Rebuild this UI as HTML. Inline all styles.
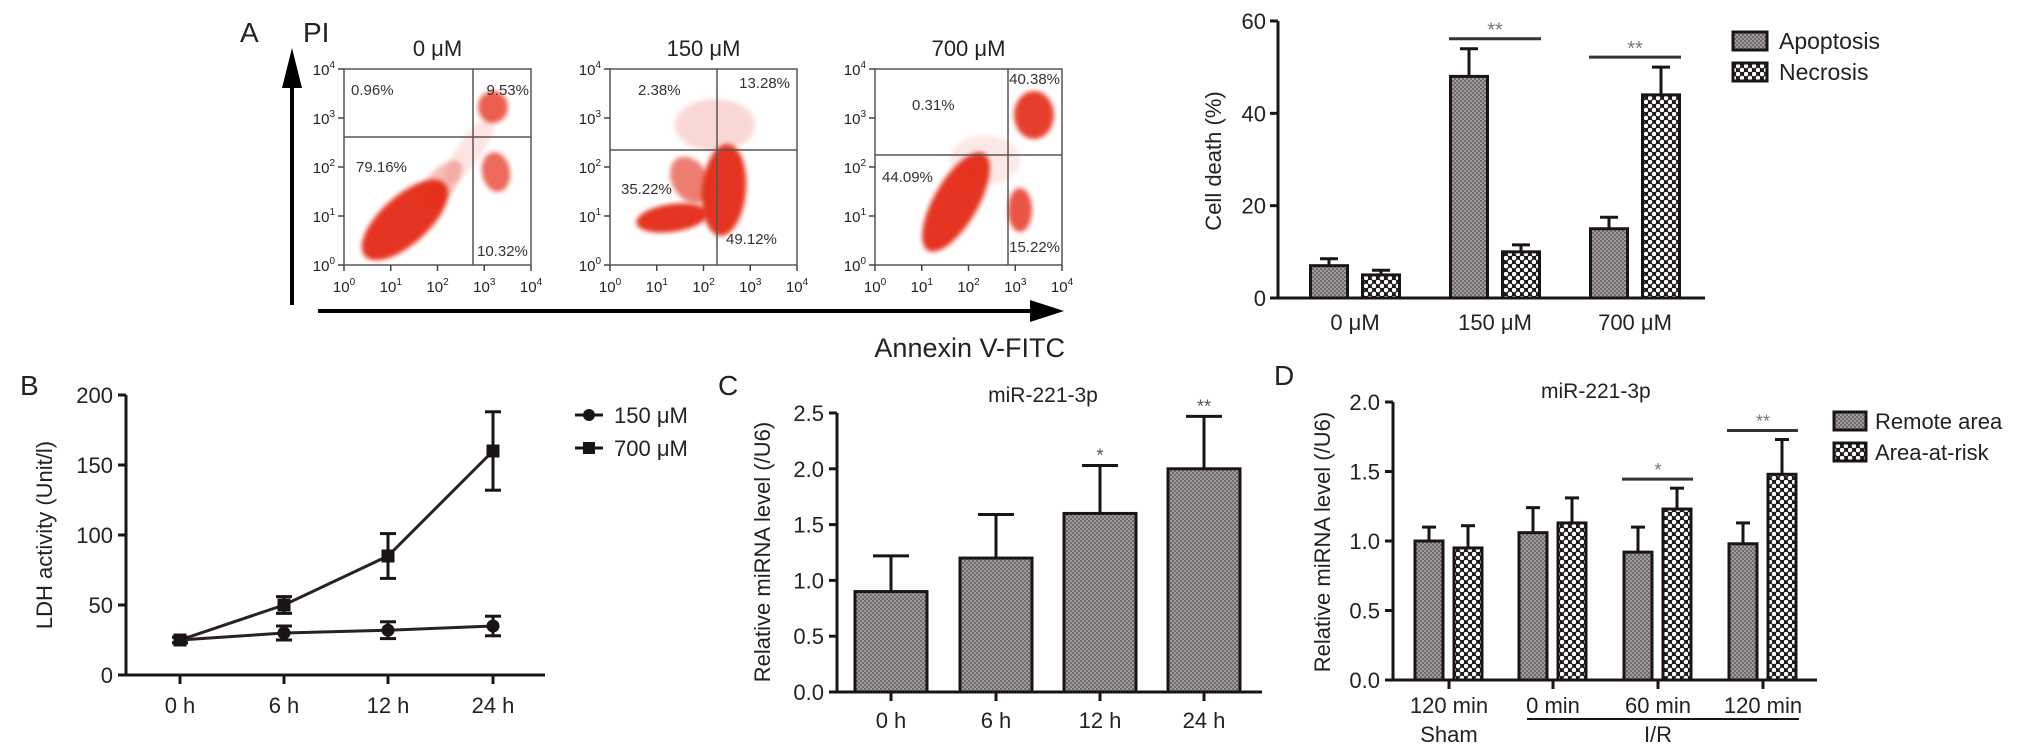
<!DOCTYPE html>
<html><head><meta charset="utf-8"><style>
html,body{margin:0;padding:0;background:#fff;}
svg{display:block;font-family:"Liberation Sans",Arial,sans-serif;}
</style></head><body>
<svg id="fig" width="2032" height="750" viewBox="0 0 2032 750" xmlns="http://www.w3.org/2000/svg">
<defs>
<pattern id="pg" width="4" height="4" patternUnits="userSpaceOnUse"><rect width="4" height="4" fill="#a29c9c"/><rect x="0" y="0" width="2" height="2" fill="#6f6a6a"/><rect x="2" y="2" width="2" height="2" fill="#6f6a6a"/></pattern>
<pattern id="pc" width="8" height="8" patternUnits="userSpaceOnUse"><rect width="8" height="8" fill="#1e1a1a"/><circle cx="2" cy="2" r="2.3" fill="#fff"/><circle cx="6" cy="6" r="2.3" fill="#fff"/></pattern>
<filter id="bl"><feGaussianBlur stdDeviation="2.5"/></filter>
</defs>
</svg>
<script>
// ---------- data ----------
const aCats = ['0 μM','150 μM','700 μM'];
const aApop = [7, 48, 15];
const aApopErr = [1.5, 6, 2.5];
const aNecr = [5, 10, 44];
const aNecrErr = [1, 1.5, 6];
const aTicks = [0, 20, 40, 60];

const bCats = ['0 h','6 h','12 h','24 h'];
const b150 = [25, 30, 32, 35];
const b150Err = [2, 5, 6, 7];
const b700 = [25, 50, 85, 160];
const b700Err = [2, 6, 16, 28];
const bTicks = [0, 50, 100, 150, 200];

const cCats = ['0 h','6 h','12 h','24 h'];
const cVals = [0.9, 1.2, 1.6, 2.0];
const cErr = [0.32, 0.39, 0.43, 0.47];
const cStars = ['', '', '*', '**'];
const cTicks = ['0.0','0.5','1.0','1.5','2.0','2.5'];

const dCats = ['120 min','0 min','60 min','120 min'];
const dRemote = [1.0, 1.06, 0.92, 0.98];
const dRemoteErr = [0.1, 0.18, 0.18, 0.15];
const dArea = [0.95, 1.13, 1.23, 1.48];
const dAreaErr = [0.16, 0.18, 0.15, 0.25];
const dStars = ['', '', '*', '**'];
const dTicks = ['0.0','0.5','1.0','1.5','2.0'];

const flowTitles = ['0 μM','150 μM','700 μM'];

// ---------- helpers ----------
const svg = document.getElementById('fig');
const NS = 'http://www.w3.org/2000/svg';
function mk(tag, attrs, name, parent) {
  const el = document.createElementNS(NS, tag);
  for (const k in attrs) el.setAttribute(k, attrs[k]);
  
  
  (parent || svg).appendChild(el);
  return el;
}
function txt(x, y, s, size, anchor, name, extra) {
  const a = {x: x, y: y, 'font-size': size, fill: '#222', 'text-anchor': anchor || 'start'};
  if (extra) for (const k in extra) a[k] = extra[k];
  const t = mk('text', a, name);
  t.textContent = s;
  return t;
}
function line(x1, y1, x2, y2, w, name, col) {
  return mk('line', {x1: x1, y1: y1, x2: x2, y2: y2, stroke: col || '#1a1414', 'stroke-width': w || 3}, name);
}
function errUp(cx, yTop, yFrom, cap, name) {
  line(cx, yFrom, cx, yTop, 3, name + '-stem');
  line(cx - cap / 2, yTop, cx + cap / 2, yTop, 3, name + '-cap');
}

// ---------- Panel A: flow plots ----------
txt(240, 42, 'A', 28, 'start', 'panel-a-label');
txt(303, 42, 'PI', 28, 'start', 'pi-axis-label');
line(292, 305, 292, 82, 4, 'pi-arrow-shaft', '#000');
mk('polygon', {points: '292,48 282,88 302,88', fill: '#000'}, 'pi-arrow-head');
line(318, 311, 1040, 311, 4, 'annexin-arrow-shaft', '#000');
mk('polygon', {points: '1064,311 1030,300 1030,322', fill: '#000'}, 'annexin-arrow-head');
txt(1065, 357, 'Annexin V-FITC', 27, 'end', 'annexin-axis-label');

const boxX = [344, 610, 875];
const boxW = 187, boxT = 69, boxB = 265;
const quadV = [473, 717, 1008];
const quadH = [137, 150, 155];
const clouds = [
  [[405,220,54,24,-42,0.95],[440,185,30,14,-50,0.3],[493,107,15,16,0,0.75],[496,172,14,20,-10,0.7],[470,150,40,12,-55,0.12]],
  [[672,218,36,14,-8,0.95],[724,190,22,46,5,0.95],[715,125,40,26,0,0.18],[690,180,18,25,-30,0.6]],
  [[956,202,56,22,-60,0.95],[1034,115,20,24,0,0.9],[1020,210,12,22,0,0.8],[985,160,35,25,0,0.1]]
];
const pcts = [
  [['0.96%',351,95,'start'],['9.53%',529,95,'end'],['79.16%',356,172,'start'],['10.32%',477,256,'start']],
  [['2.38%',638,95,'start'],['13.28%',790,88,'end'],['35.22%',621,194,'start'],['49.12%',726,244,'start']],
  [['0.31%',912,110,'start'],['40.38%',1060,84,'end'],['44.09%',882,182,'start'],['15.22%',1060,252,'end']]
];
for (let p = 0; p < 3; p++) {
  const x0 = boxX[p];
  const g = mk('g', {}, 'flow-plot-' + p);
  txt(x0 + boxW / 2, 56, flowTitles[p], 22, 'middle', 'flow-title-' + p);
  clouds[p].forEach((c, i) => {
    mk('ellipse', {cx: c[0], cy: c[1], rx: c[2], ry: c[3], transform: 'rotate(' + c[4] + ' ' + c[0] + ' ' + c[1] + ')', fill: '#e42a12', opacity: c[5], filter: 'url(#bl)'}, 'flow-cloud-' + p + '-' + i, g);
  });
  mk('rect', {x: x0, y: boxT, width: boxW, height: boxB - boxT, fill: 'none', stroke: '#555', 'stroke-width': 1.5}, 'flow-box-' + p);
  line(quadV[p], boxT, quadV[p], boxB, 1.5, 'quad-vline-' + p, '#555');
  line(x0, quadH[p], x0 + boxW, quadH[p], 1.5, 'quad-hline-' + p, '#555');
  for (let k = 0; k <= 4; k++) {
    const yy = boxB - k * (boxB - boxT) / 4;
    line(x0 - 6, yy, x0, yy, 1.5, 'flow-ytick-' + p + '-' + k, '#444');
    const t = txt(x0 - 9, yy + 6, '10', 15, 'end', 'flow-ylabel-' + p + '-' + k);
    const s = document.createElementNS(NS, 'tspan');
    s.setAttribute('dy', '-7'); s.setAttribute('font-size', '10'); s.textContent = k;
    t.appendChild(s);
    const xx = x0 + k * boxW / 4;
    line(xx, boxB, xx, boxB + 6, 1.5, 'flow-xtick-' + p + '-' + k, '#444');
    const t2 = txt(xx, boxB + 27, '10', 15, 'middle', 'flow-xlabel-' + p + '-' + k);
    const s2 = document.createElementNS(NS, 'tspan');
    s2.setAttribute('dy', '-7'); s2.setAttribute('font-size', '10'); s2.textContent = k;
    t2.appendChild(s2);
  }
  pcts[p].forEach((q, i) => txt(q[1], q[2], q[0], 15, q[3], 'flow-pct-' + p + '-' + i, {fill: '#333'}));
}

// ---------- Panel A: bar chart ----------
const yA = v => 298 - v * 277 / 60;
const aCx = [1355, 1495, 1635];
line(1278, 298, 1705, 298, 3, 'a-x-axis');
line(1278, 298, 1278, 21, 3, 'a-y-axis');
aTicks.forEach((t, i) => {
  line(1270, yA(t), 1278, yA(t), 3, 'a-ytick-' + i);
  txt(1266, yA(t) + 8, String(t), 22, 'end', 'a-ytick-label-' + i);
});
txt(0, 0, 'Cell death (%)', 22, 'middle', 'a-y-axis-title', {transform: 'translate(1221,161) rotate(-90)'});
aCats.forEach((c, i) => {
  txt(aCx[i], 330, c, 22, 'middle', 'a-xtick-label-' + i);
  const xa = aCx[i] - 26, xn = aCx[i] + 26;
  mk('rect', {x: xa - 18.5, y: yA(aApop[i]), width: 37, height: 298 - yA(aApop[i]), fill: 'url(#pg)', stroke: '#1a1414', 'stroke-width': 3}, 'bar-apoptosis-' + i);
  errUp(xa, yA(aApop[i] + aApopErr[i]), yA(aApop[i]), 18, 'err-apoptosis-' + i);
  mk('rect', {x: xn - 18.5, y: yA(aNecr[i]), width: 37, height: 298 - yA(aNecr[i]), fill: 'url(#pc)', stroke: '#1a1414', 'stroke-width': 3}, 'bar-necrosis-' + i);
  errUp(xn, yA(aNecr[i] + aNecrErr[i]), yA(aNecr[i]), 18, 'err-necrosis-' + i);
  if (i > 0) {
    const top = Math.max(aApop[i] + aApopErr[i], aNecr[i] + aNecrErr[i]);
    const ly = yA(top) - 10;
    line(xa - 20, ly, xn + 20, ly, 3, 'a-sig-line-' + i, '#333');
    txt(aCx[i], ly - 2, '**', 20, 'middle', 'a-sig-star-' + i, {fill: '#777'});
  }
});
mk('rect', {x: 1733, y: 32, width: 34, height: 18, fill: 'url(#pg)', stroke: '#1a1414', 'stroke-width': 3}, 'legend-apoptosis-swatch');
txt(1779, 49, 'Apoptosis', 23, 'start', 'legend-apoptosis-text');
mk('rect', {x: 1733, y: 63, width: 34, height: 18, fill: 'url(#pc)', stroke: '#1a1414', 'stroke-width': 3}, 'legend-necrosis-swatch');
txt(1779, 80, 'Necrosis', 23, 'start', 'legend-necrosis-text');

// ---------- Panel B ----------
const yB = v => 675 - v * 1.4;
const xB = [180, 284, 388, 493];
txt(20, 395, 'B', 28, 'start', 'panel-b-label');
line(126, 675, 545, 675, 3, 'b-x-axis');
line(126, 675, 126, 395, 3, 'b-y-axis');
bTicks.forEach((t, i) => {
  line(118, yB(t), 126, yB(t), 3, 'b-ytick-' + i);
  txt(113, yB(t) + 8, String(t), 22, 'end', 'b-ytick-label-' + i);
});
bCats.forEach((c, i) => {
  line(xB[i], 675, xB[i], 684, 3, 'b-xtick-' + i);
  txt(xB[i], 713, c, 22, 'middle', 'b-xtick-label-' + i);
});
txt(0, 0, 'LDH activity (Unit/l)', 22, 'middle', 'b-y-axis-title', {transform: 'translate(52,535) rotate(-90)'});
function series(vals, errs, kind) {
  mk('polyline', {points: vals.map((v, i) => xB[i] + ',' + yB(v)).join(' '), fill: 'none', stroke: '#2a2222', 'stroke-width': 3}, 'line-' + kind);
  vals.forEach((v, i) => {
    line(xB[i], yB(v - errs[i]), xB[i], yB(v + errs[i]), 3, 'err-' + kind + '-' + i);
    line(xB[i] - 8, yB(v + errs[i]), xB[i] + 8, yB(v + errs[i]), 3, 'errcap-top-' + kind + '-' + i);
    line(xB[i] - 8, yB(v - errs[i]), xB[i] + 8, yB(v - errs[i]), 3, 'errcap-bot-' + kind + '-' + i);
    if (kind === '150') mk('circle', {cx: xB[i], cy: yB(v), r: 6.5, fill: '#1a1414'}, 'point-150-' + i);
    else mk('rect', {x: xB[i] - 6.5, y: yB(v) - 6.5, width: 13, height: 13, fill: '#1a1414'}, 'point-700-' + i);
  });
}
series(b150, b150Err, '150');
series(b700, b700Err, '700');
line(575, 415, 603, 415, 3, 'legend-150-line');
mk('circle', {cx: 589, cy: 415, r: 6, fill: '#1a1414'}, 'legend-150-marker');
txt(614, 423, '150 μM', 22, 'start', 'legend-150-text');
line(575, 448, 603, 448, 3, 'legend-700-line');
mk('rect', {x: 583, y: 442, width: 12, height: 12, fill: '#1a1414'}, 'legend-700-marker');
txt(614, 456, '700 μM', 22, 'start', 'legend-700-text');

// ---------- Panel C ----------
const yC = v => 692 - v * 111.6;
const xC = [891, 996, 1100, 1204];
txt(718, 395, 'C', 28, 'start', 'panel-c-label');
txt(1043, 402, 'miR-221-3p', 21, 'middle', 'c-title');
line(837, 692, 1262, 692, 3, 'c-x-axis');
line(837, 692, 837, 413, 3, 'c-y-axis');
cTicks.forEach((t, i) => {
  const v = parseFloat(t);
  line(829, yC(v), 837, yC(v), 3, 'c-ytick-' + i);
  txt(824, yC(v) + 8, t, 22, 'end', 'c-ytick-label-' + i);
});
txt(0, 0, 'Relative miRNA level (/U6)', 22, 'middle', 'c-y-axis-title', {transform: 'translate(770,552) rotate(-90)'});
cCats.forEach((c, i) => {
  mk('rect', {x: xC[i] - 36, y: yC(cVals[i]), width: 72, height: 692 - yC(cVals[i]), fill: 'url(#pg)', stroke: '#1a1414', 'stroke-width': 3}, 'bar-c-' + i);
  errUp(xC[i], yC(cVals[i] + cErr[i]), yC(cVals[i]), 36, 'err-c-' + i);
  line(xC[i], 692, xC[i], 701, 3, 'c-xtick-' + i);
  txt(xC[i], 728, c, 22, 'middle', 'c-xtick-label-' + i);
  if (cStars[i]) txt(xC[i], yC(cVals[i] + cErr[i]) - 4, cStars[i], 18, 'middle', 'c-star-' + i, {fill: '#555'});
});

// ---------- Panel D ----------
const yD = v => 680 - v * 139;
const xD = [1449, 1553, 1658, 1763];
txt(1274, 385, 'D', 28, 'start', 'panel-d-label');
txt(1541, 398, 'miR-221-3p', 21, 'start', 'd-title');
line(1393, 680, 1817, 680, 3, 'd-x-axis');
line(1393, 680, 1393, 402, 3, 'd-y-axis');
dTicks.forEach((t, i) => {
  const v = parseFloat(t);
  line(1385, yD(v), 1393, yD(v), 3, 'd-ytick-' + i);
  txt(1380, yD(v) + 8, t, 22, 'end', 'd-ytick-label-' + i);
});
txt(0, 0, 'Relative miRNA level (/U6)', 22, 'middle', 'd-y-axis-title', {transform: 'translate(1330,542) rotate(-90)'});
dCats.forEach((c, i) => {
  const xr = xD[i] - 20, xa = xD[i] + 19;
  mk('rect', {x: xr - 14, y: yD(dRemote[i]), width: 28, height: 680 - yD(dRemote[i]), fill: 'url(#pg)', stroke: '#1a1414', 'stroke-width': 3}, 'bar-remote-' + i);
  errUp(xr, yD(dRemote[i] + dRemoteErr[i]), yD(dRemote[i]), 14, 'err-remote-' + i);
  mk('rect', {x: xa - 14, y: yD(dArea[i]), width: 28, height: 680 - yD(dArea[i]), fill: 'url(#pc)', stroke: '#1a1414', 'stroke-width': 3}, 'bar-area-' + i);
  errUp(xa, yD(dArea[i] + dAreaErr[i]), yD(dArea[i]), 14, 'err-area-' + i);
  line(xD[i], 680, xD[i], 689, 3, 'd-xtick-' + i);
  txt(xD[i], 713, c, 22, 'middle', 'd-xtick-label-' + i);
  if (dStars[i]) {
    const top = Math.max(dRemote[i] + dRemoteErr[i], dArea[i] + dAreaErr[i]);
    const ly = yD(top) - 9;
    line(xr - 16, ly, xa + 16, ly, 3, 'd-sig-line-' + i, '#333');
    txt(xD[i], ly - 3, dStars[i], 18, 'middle', 'd-sig-star-' + i, {fill: '#777'});
  }
});
txt(1449, 742, 'Sham', 22, 'middle', 'd-sham-label');
line(1527, 719, 1799, 719, 2, 'd-ir-underline');
txt(1658, 742, 'I/R', 22, 'middle', 'd-ir-label');
mk('rect', {x: 1834, y: 412, width: 32, height: 18, fill: 'url(#pg)', stroke: '#1a1414', 'stroke-width': 3}, 'legend-remote-swatch');
txt(1875, 429, 'Remote area', 22, 'start', 'legend-remote-text');
mk('rect', {x: 1834, y: 443, width: 32, height: 18, fill: 'url(#pc)', stroke: '#1a1414', 'stroke-width': 3}, 'legend-area-swatch');
txt(1875, 460, 'Area-at-risk', 22, 'start', 'legend-area-text');
</script>
</body></html>
